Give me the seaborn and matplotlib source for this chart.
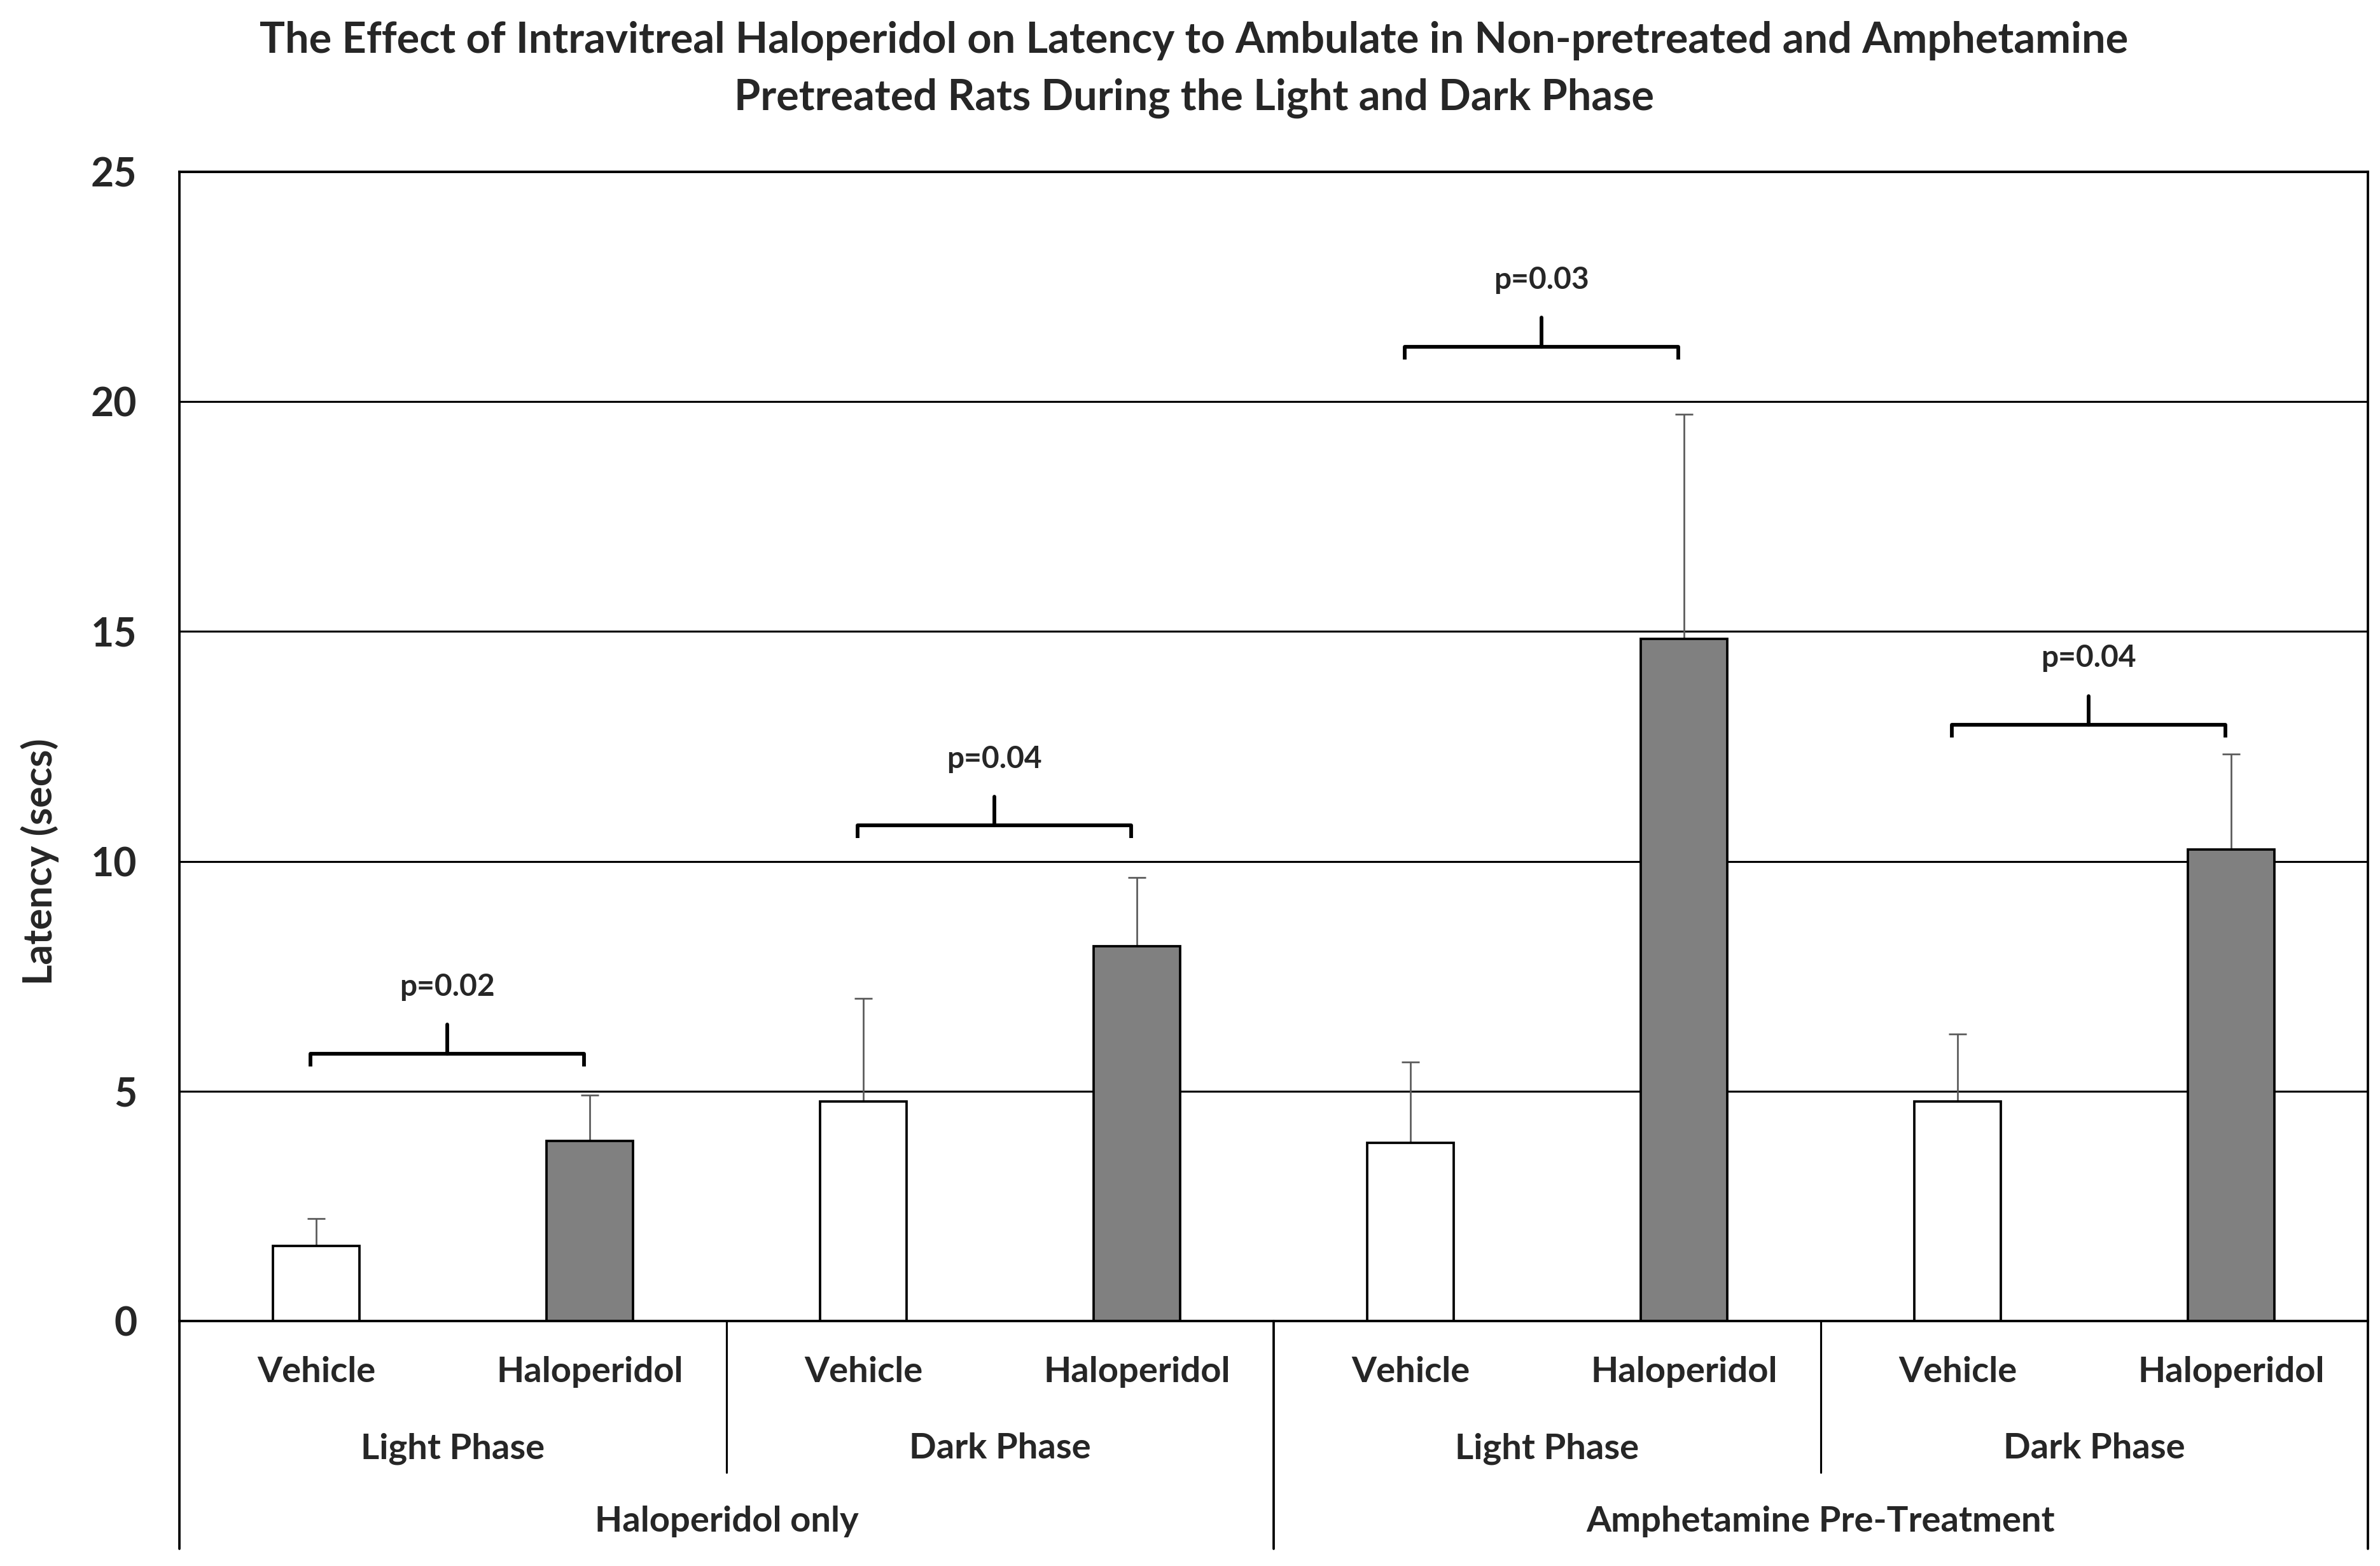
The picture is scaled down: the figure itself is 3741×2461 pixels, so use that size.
import numpy as np
import pandas as pd
import matplotlib
matplotlib.use("Agg")
import matplotlib.pyplot as plt
import seaborn as sns

# ---------------- data ----------------
title_line1 = "The Effect of Intravitreal Haloperidol on Latency to Ambulate in Non-pretreated and Amphetamine"
title_line2 = "Pretreated Rats During the Light and Dark Phase"
treatments = ["Vehicle", "Haloperidol", "Vehicle", "Haloperidol",
              "Vehicle", "Haloperidol", "Vehicle", "Haloperidol"]
phases = ["Light Phase", "Dark Phase", "Light Phase", "Dark Phase"]
groups = ["Haloperidol only", "Amphetamine Pre-Treatment"]
means = [1.63, 3.92, 4.78, 8.15, 3.87, 14.84, 4.78, 10.26]
errors = [0.60, 1.00, 2.24, 1.50, 1.77, 4.88, 1.47, 2.07]
p_values = ["p=0.02", "p=0.04", "p=0.03", "p=0.04"]
bracket_heights = [5.82, 10.78, 21.20, 12.97]
y_ticks = [0, 5, 10, 15, 20, 25]
y_label = "Latency (secs)"

# ---------------- style ----------------
sns.set_theme(style="white")
plt.rcParams["font.family"] = ["Lato", "DejaVu Sans"]
plt.rcParams["font.weight"] = "bold"

W, H = 3741, 2461
DPI = 300
fig = plt.figure(figsize=(W / DPI, H / DPI), dpi=DPI)
ax = fig.add_axes([282 / W, 1 - 2076 / H, (3722 - 282) / W, (2076 - 270) / H])

df = pd.DataFrame({"pos": list(range(len(means))), "Latency": means, "Treatment": treatments})
sns.barplot(data=df, x="pos", y="Latency", hue="Treatment",
            palette={"Vehicle": "white", "Haloperidol": "#808080"},
            dodge=False, width=0.316, edgecolor="black", linewidth=0.9,
            errorbar=None, legend=False, ax=ax, zorder=2)

x = np.arange(len(means))
ax.errorbar(x, means, yerr=[np.zeros(len(errors)), errors], fmt="none",
            ecolor="#5a5a5a", elinewidth=0.65, capsize=3.4, capthick=0.65, zorder=1.5)

ax.set_xlim(-0.5, len(means) - 0.5)
ax.set_ylim(0, 25)
ax.set_yticks(y_ticks)
ax.set_yticklabels([str(t) for t in y_ticks], fontsize=15, fontweight="bold")
ax.yaxis.grid(True, color="black", linewidth=0.75, zorder=0.5)
ax.xaxis.grid(False)
ax.set_axisbelow(True)
ax.tick_params(axis="y", length=0, pad=16)

ax.set_xticks(x)
ax.set_xticklabels(treatments, fontsize=13.5, fontweight="bold", va="baseline")
ax.tick_params(axis="x", length=0, pad=23)
ax.set_xlabel("")
ax.set_ylabel("")

for s in ["left", "right", "top", "bottom"]:
    ax.spines[s].set_visible(True)
    ax.spines[s].set_color("black")
    ax.spines[s].set_linewidth(0.9)

# hierarchical category axis
trans = ax.get_xaxis_transform()
y_bottom = -(2434 - 2076) / (2076 - 270)
y_phase_sep = -(2314 - 2076) / (2076 - 270)
y_phase_txt = -(2292 - 2076) / (2076 - 270)
y_group_txt = -(2407 - 2076) / (2076 - 270)
for b in [-0.5, 3.5, 7.5]:
    ax.plot([b, b], [0, y_bottom], transform=trans, color="black", lw=0.9, clip_on=False)
for b in [1.5, 5.5]:
    ax.plot([b, b], [0, y_phase_sep], transform=trans, color="black", lw=0.75, clip_on=False)
for k, ph in enumerate(phases):
    ax.text(2 * k + 0.5, y_phase_txt, ph, transform=trans, ha="center", va="baseline",
            fontsize=13.5, fontweight="bold")
for k, gr in enumerate(groups):
    ax.text(4 * k + 1.5, y_group_txt, gr, transform=trans, ha="center", va="baseline",
            fontsize=13.5, fontweight="bold")

# significance brackets
for k, (p, yb) in enumerate(zip(p_values, bracket_heights)):
    x0, x1 = 2 * k - 0.02, 2 * k + 1 - 0.02
    xm = (x0 + x1) / 2
    ax.plot([x0, x0, x1, x1], [yb - 0.28, yb, yb, yb - 0.28], color="black", lw=1.4,
            solid_joinstyle="round", solid_capstyle="butt", zorder=3)
    ax.plot([xm, xm], [yb, yb + 0.63], color="black", lw=1.4, zorder=3)
    ax.text(xm, yb + 1.45, p, ha="center", va="center", fontsize=11.5, fontweight="bold")

# titles
fig.text(1877 / W, 1 - 83 / H, title_line1, ha="center", va="baseline", fontsize=16, fontweight="bold")
fig.text(1877 / W, 1 - 173 / H, title_line2, ha="center", va="baseline", fontsize=16, fontweight="bold")
fig.text(63 / W, 1 - 1354 / H, y_label, rotation=90, ha="center", va="center",
         fontsize=15, fontweight="bold")

fig.savefig("out.png", dpi=DPI, facecolor="white")
